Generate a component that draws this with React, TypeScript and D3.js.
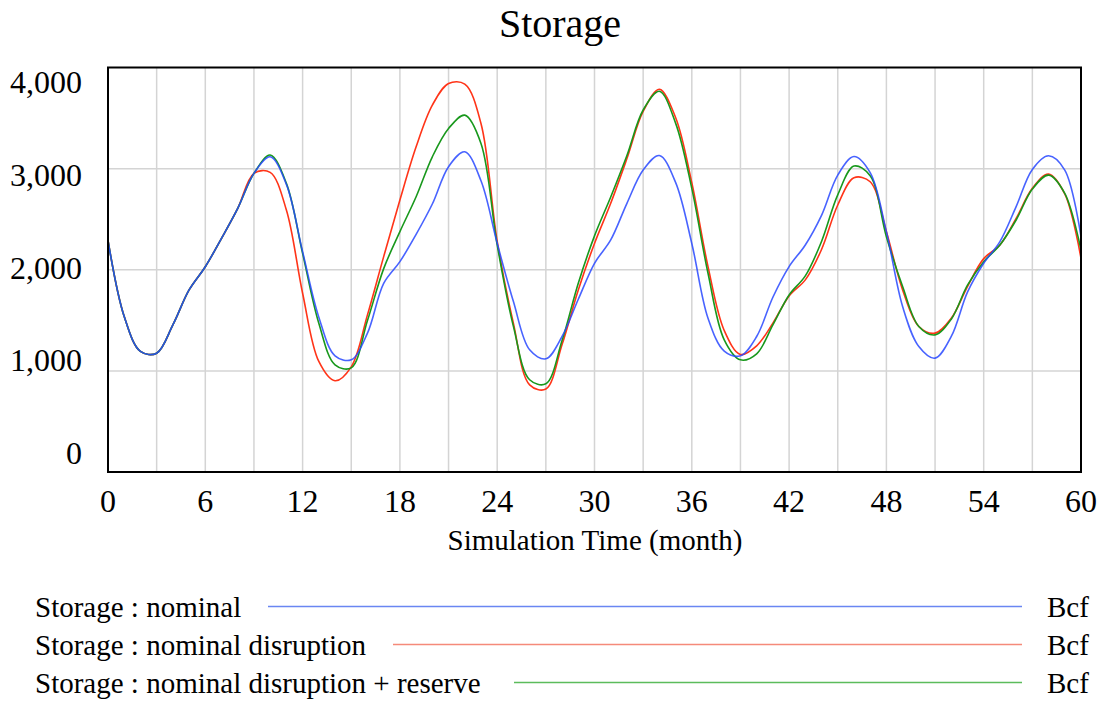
import React from "react";
import * as d3 from "d3";

// ---- Data ----
const months: number[] = d3.range(0, 61);

const nominal: number[] = [
  2290, 1537, 1192, 1175, 1455, 1800, 2030, 2311, 2607, 2953,
  3117, 2844, 2179, 1531, 1149, 1110, 1373, 1866, 2080, 2350,
  2650, 3019, 3167, 2880, 2262, 1685, 1208, 1119, 1340, 1708,
  2064, 2295, 2657, 2986, 3130, 2864, 2260, 1521, 1195, 1149,
  1340, 1728, 2031, 2245, 2538, 2936, 3120, 2960, 2377, 1636,
  1241, 1126, 1340, 1778, 2064, 2278, 2624, 2992, 3127, 2986,
  2327,
];

const nominalDisruption: number[] = [
  2290, 1537, 1192, 1175, 1455, 1800, 2030, 2311, 2607, 2953,
  2963, 2591, 1768, 1093, 902, 1040, 1554, 2130, 2690, 3216,
  3628, 3842, 3835, 3447, 2280, 1470, 862, 820, 1260, 1800,
  2260, 2657, 3100, 3565, 3785, 3506, 2861, 2031, 1399, 1162,
  1248, 1472, 1741, 1900, 2200, 2640, 2910, 2870, 2377, 1801,
  1439, 1373, 1520, 1834, 2110, 2245, 2508, 2805, 2946, 2749,
  2113,
];

const disruptionReserve: number[] = [
  2290, 1537, 1192, 1175, 1455, 1800, 2030, 2311, 2607, 2953,
  3134, 2854, 2163, 1471, 1060, 1030, 1498, 2011, 2377, 2722,
  3117, 3397, 3529, 3249, 2245, 1440, 912, 872, 1300, 1867,
  2335, 2720, 3130, 3580, 3765, 3450, 2805, 1965, 1307, 1109,
  1169, 1455, 1751, 1939, 2280, 2740, 3025, 2930, 2327, 1834,
  1439, 1356, 1511, 1847, 2080, 2245, 2492, 2798, 2936, 2755,
  2196,
];

const xTicks: number[] = d3.range(0, 61, 6);
const xGrid: number[] = d3.range(3, 60, 3);
const yTicks: number[] = [0, 1000, 2000, 3000, 4000];
const yGrid: number[] = [1000, 2000, 3000];

const seriesNames: string[] = [
  "Storage : nominal",
  "Storage : nominal disruption",
  "Storage : nominal disruption + reserve",
];
const seriesColors: string[] = ["#2848ff", "#ff3418", "#18981c"];
const legendColors: string[] = ["#6a86f2", "#f58a7a", "#5cbc5c"];
const unitLabel = "Bcf";

const FONT = "'Liberation Serif', 'Times New Roman', serif";

export default function App() {
  const W = 1105;
  const H = 702;
  const left = 108;
  const right = 1081;
  const top = 67.5;
  const bottom = 472;

  const x = d3.scaleLinear().domain([0, 60]).range([left, right]);
  const y = d3.scaleLinear().domain([0, 4000]).range([bottom, top]);
  // label baselines are spread inside the frame (Vensim style)
  const yLab = d3.scaleLinear().domain([0, 4000]).range([464, 93]);

  const line = d3
    .line<number>()
    .x((_, i) => x(months[i]))
    .y((d) => y(d))
    .curve(d3.curveCatmullRom.alpha(0.5));

  const series = [nominal, nominalDisruption, disruptionReserve];
  const drawOrder = [1, 2, 0];

  const legendRows = [
    { base: 617, lineY: 606.5, start: 268 },
    { base: 655, lineY: 644.5, start: 393 },
    { base: 693, lineY: 682.5, start: 514 },
  ];

  return (
    <svg
      width={W}
      height={H}
      style={{ position: "absolute", left: 0, top: 0, background: "#fff" }}
      fontFamily={FONT}
    >
      <rect x={0} y={0} width={W} height={H} fill="#fff" />
      <text x={560} y={37} fontSize={40} textAnchor="middle" fill="#000">
        Storage
      </text>

      {/* grid */}
      {xGrid.map((t) => (
        <line
          key={"vx" + t}
          x1={x(t)}
          x2={x(t)}
          y1={top}
          y2={bottom}
          stroke="#d4d4d4"
          strokeWidth={1.5}
        />
      ))}
      {yGrid.map((v) => (
        <line
          key={"hy" + v}
          x1={left}
          x2={right}
          y1={y(v)}
          y2={y(v)}
          stroke="#d4d4d4"
          strokeWidth={1.5}
        />
      ))}

      {/* series */}
      {drawOrder.map((si) => (
        <path
          key={"s" + si}
          d={line(series[si]) || ""}
          fill="none"
          stroke={seriesColors[si]}
          strokeWidth={1.6}
          strokeOpacity={si === 0 ? 0.85 : 1}
        />
      ))}

      {/* frame */}
      <rect
        x={left}
        y={top}
        width={right - left}
        height={bottom - top}
        fill="none"
        stroke="#000"
        strokeWidth={2}
      />

      {/* x ticks */}
      {xTicks.map((t) => (
        <text key={"xt" + t} x={x(t)} y={512} fontSize={32} textAnchor="middle" fill="#000">
          {t}
        </text>
      ))}
      <text x={595} y={550} fontSize={29} textAnchor="middle" fill="#000">
        Simulation Time (month)
      </text>

      {/* y ticks */}
      {yTicks.map((v) => (
        <text key={"yt" + v} x={82} y={yLab(v)} fontSize={32} textAnchor="end" fill="#000">
          {d3.format(",")(v)}
        </text>
      ))}

      {/* legend */}
      {legendRows.map((r, i) => (
        <g key={"lg" + i}>
          <text x={35} y={r.base} fontSize={29} fill="#000">
            {seriesNames[i]}
          </text>
          <line
            x1={r.start}
            x2={1022}
            y1={r.lineY}
            y2={r.lineY}
            stroke={legendColors[i]}
            strokeWidth={1.5}
          />
          <text x={1047} y={r.base} fontSize={29} fill="#000">
            {unitLabel}
          </text>
        </g>
      ))}
    </svg>
  );
}
